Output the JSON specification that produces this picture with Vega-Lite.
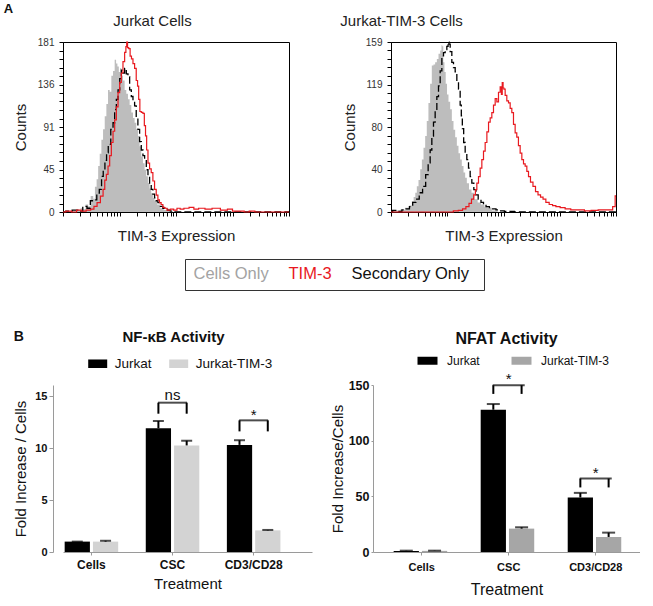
{
"$schema": "https://vega.github.io/schema/vega-lite/v6.json",
"padding": {"left": 3, "top": 2, "right": 0, "bottom": 0},
"title": {"text": "A", "anchor": "start", "frame": "bounds", "fontSize": 13, "fontWeight": "bold", "offset": -2, "dx": -9, "color": "#111"},
"datasets": {
"aCells": [{"d":0,"c":0},{"d":0.1,"c":1},{"d":0.2,"c":0.5},{"d":0.28,"c":2},{"d":0.34,"c":4},{"d":0.37,"c":3},{"d":0.43,"c":8},{"d":0.46,"c":6},{"d":0.52,"c":17},{"d":0.55,"c":14},{"d":0.58,"c":27},{"d":0.61,"c":35},{"d":0.635,"c":49},{"d":0.665,"c":62},{"d":0.694,"c":77},{"d":0.724,"c":88},{"d":0.753,"c":102},{"d":0.782,"c":115},{"d":0.812,"c":130},{"d":0.84,"c":128},{"d":0.871,"c":145},{"d":0.9,"c":150},{"d":0.929,"c":162},{"d":0.95,"c":158},{"d":0.976,"c":155},{"d":1.0,"c":149},{"d":1.018,"c":153},{"d":1.047,"c":145},{"d":1.076,"c":140},{"d":1.106,"c":130},{"d":1.135,"c":126},{"d":1.165,"c":120},{"d":1.194,"c":114},{"d":1.224,"c":106},{"d":1.253,"c":100},{"d":1.282,"c":95},{"d":1.312,"c":88},{"d":1.341,"c":81},{"d":1.371,"c":70},{"d":1.4,"c":59},{"d":1.43,"c":52},{"d":1.459,"c":45},{"d":1.488,"c":38},{"d":1.518,"c":31},{"d":1.547,"c":25},{"d":1.576,"c":20},{"d":1.606,"c":15},{"d":1.635,"c":12},{"d":1.694,"c":8},{"d":1.753,"c":4},{"d":1.812,"c":2},{"d":1.871,"c":1},{"d":1.93,"c":0},{"d":4,"c":0}],
"aSec": [{"d":0,"c":0},{"d":0.1,"c":1},{"d":0.224,"c":2},{"d":0.3,"c":1},{"d":0.4,"c":6},{"d":0.45,"c":4},{"d":0.518,"c":12},{"d":0.576,"c":13},{"d":0.62,"c":20},{"d":0.665,"c":24},{"d":0.7,"c":38},{"d":0.724,"c":45},{"d":0.76,"c":55},{"d":0.782,"c":63},{"d":0.82,"c":72},{"d":0.871,"c":88},{"d":0.9,"c":95},{"d":0.929,"c":109},{"d":0.96,"c":120},{"d":0.988,"c":130},{"d":1.02,"c":142},{"d":1.047,"c":151},{"d":1.076,"c":148},{"d":1.106,"c":153},{"d":1.135,"c":147},{"d":1.165,"c":144},{"d":1.194,"c":130},{"d":1.224,"c":123},{"d":1.253,"c":118},{"d":1.282,"c":113},{"d":1.31,"c":100},{"d":1.341,"c":88},{"d":1.371,"c":75},{"d":1.4,"c":66},{"d":1.43,"c":60},{"d":1.459,"c":56},{"d":1.49,"c":45},{"d":1.518,"c":38},{"d":1.547,"c":30},{"d":1.576,"c":24},{"d":1.606,"c":19},{"d":1.635,"c":15},{"d":1.665,"c":12},{"d":1.694,"c":10},{"d":1.753,"c":6},{"d":1.782,"c":4},{"d":1.83,"c":3},{"d":1.871,"c":2},{"d":1.93,"c":1},{"d":1.988,"c":0},{"d":4,"c":0}],
"aTim": [{"d":0,"c":0},{"d":0.1,"c":1},{"d":0.2,"c":0},{"d":0.282,"c":2},{"d":0.36,"c":1},{"d":0.459,"c":2},{"d":0.52,"c":3},{"d":0.576,"c":6},{"d":0.63,"c":10},{"d":0.694,"c":17},{"d":0.725,"c":24},{"d":0.753,"c":34},{"d":0.782,"c":40},{"d":0.812,"c":49},{"d":0.84,"c":60},{"d":0.871,"c":74},{"d":0.9,"c":86},{"d":0.929,"c":98},{"d":0.96,"c":112},{"d":0.988,"c":127},{"d":1.018,"c":138},{"d":1.047,"c":148},{"d":1.076,"c":160},{"d":1.106,"c":170},{"d":1.12,"c":176},{"d":1.135,"c":181},{"d":1.15,"c":175},{"d":1.176,"c":174},{"d":1.2,"c":166},{"d":1.224,"c":163},{"d":1.253,"c":158},{"d":1.282,"c":153},{"d":1.31,"c":140},{"d":1.329,"c":134},{"d":1.35,"c":120},{"d":1.371,"c":107},{"d":1.4,"c":106},{"d":1.429,"c":105},{"d":1.45,"c":92},{"d":1.471,"c":81},{"d":1.49,"c":66},{"d":1.518,"c":52},{"d":1.547,"c":46},{"d":1.576,"c":42},{"d":1.606,"c":33},{"d":1.635,"c":24},{"d":1.665,"c":18},{"d":1.694,"c":13},{"d":1.72,"c":10},{"d":1.753,"c":8},{"d":1.782,"c":5},{"d":1.812,"c":4},{"d":1.87,"c":2},{"d":1.929,"c":3},{"d":1.988,"c":2},{"d":2.047,"c":4},{"d":2.1,"c":3},{"d":2.18,"c":4},{"d":2.282,"c":5},{"d":2.35,"c":3},{"d":2.45,"c":4},{"d":2.576,"c":3},{"d":2.7,"c":4},{"d":2.871,"c":2},{"d":2.95,"c":3},{"d":3.05,"c":1},{"d":3.165,"c":1},{"d":3.25,"c":0},{"d":3.341,"c":1},{"d":3.45,"c":0},{"d":4,"c":0}],
"bCells": [{"d":0,"c":0},{"d":0.059,"c":1},{"d":0.119,"c":1.5},{"d":0.2,"c":2},{"d":0.296,"c":4},{"d":0.356,"c":6},{"d":0.385,"c":10},{"d":0.42,"c":14},{"d":0.444,"c":18},{"d":0.474,"c":24},{"d":0.504,"c":30},{"d":0.535,"c":40},{"d":0.563,"c":49},{"d":0.593,"c":60},{"d":0.622,"c":71},{"d":0.65,"c":85},{"d":0.681,"c":102},{"d":0.71,"c":120},{"d":0.741,"c":137},{"d":0.77,"c":138},{"d":0.8,"c":140},{"d":0.83,"c":143},{"d":0.859,"c":148},{"d":0.889,"c":151},{"d":0.905,"c":156},{"d":0.919,"c":155},{"d":0.94,"c":140},{"d":0.96,"c":131},{"d":0.985,"c":120},{"d":1.007,"c":110},{"d":1.037,"c":103},{"d":1.067,"c":96},{"d":1.096,"c":85},{"d":1.126,"c":77},{"d":1.156,"c":70},{"d":1.185,"c":62},{"d":1.215,"c":55},{"d":1.244,"c":49},{"d":1.274,"c":43},{"d":1.304,"c":37},{"d":1.333,"c":32},{"d":1.363,"c":27},{"d":1.41,"c":21},{"d":1.452,"c":18},{"d":1.511,"c":12},{"d":1.57,"c":9},{"d":1.63,"c":7},{"d":1.69,"c":5},{"d":1.748,"c":4},{"d":1.837,"c":1.5},{"d":1.956,"c":0},{"d":4,"c":0}],
"bSec": [{"d":0,"c":0},{"d":0.059,"c":1.5},{"d":0.15,"c":0.5},{"d":0.237,"c":2},{"d":0.3,"c":3},{"d":0.356,"c":5},{"d":0.415,"c":9},{"d":0.474,"c":12},{"d":0.53,"c":18},{"d":0.593,"c":24},{"d":0.64,"c":35},{"d":0.681,"c":46},{"d":0.711,"c":58},{"d":0.741,"c":71},{"d":0.77,"c":84},{"d":0.8,"c":96},{"d":0.83,"c":108},{"d":0.859,"c":118},{"d":0.889,"c":132},{"d":0.919,"c":146},{"d":0.948,"c":149},{"d":0.978,"c":152},{"d":1.007,"c":155},{"d":1.022,"c":159},{"d":1.037,"c":157},{"d":1.067,"c":150},{"d":1.096,"c":140},{"d":1.126,"c":135},{"d":1.156,"c":131},{"d":1.185,"c":122},{"d":1.215,"c":115},{"d":1.244,"c":100},{"d":1.256,"c":90},{"d":1.28,"c":78},{"d":1.304,"c":65},{"d":1.333,"c":56},{"d":1.363,"c":49},{"d":1.393,"c":41},{"d":1.422,"c":33},{"d":1.452,"c":27},{"d":1.493,"c":21},{"d":1.53,"c":16},{"d":1.57,"c":12},{"d":1.63,"c":9},{"d":1.659,"c":7},{"d":1.72,"c":5},{"d":1.778,"c":4},{"d":1.837,"c":3},{"d":1.896,"c":2},{"d":1.956,"c":1},{"d":2.074,"c":0.5},{"d":2.311,"c":0},{"d":4,"c":0}],
"bTim": [{"d":0,"c":0},{"d":1.067,"c":0},{"d":1.15,"c":1},{"d":1.244,"c":1.5},{"d":1.3,"c":3},{"d":1.363,"c":5},{"d":1.41,"c":8},{"d":1.452,"c":12},{"d":1.49,"c":16},{"d":1.511,"c":21},{"d":1.541,"c":27},{"d":1.57,"c":33},{"d":1.6,"c":41},{"d":1.63,"c":49},{"d":1.659,"c":57},{"d":1.689,"c":65},{"d":1.72,"c":75},{"d":1.748,"c":84},{"d":1.778,"c":88},{"d":1.807,"c":93},{"d":1.837,"c":100},{"d":1.867,"c":106},{"d":1.896,"c":103},{"d":1.926,"c":112},{"d":1.956,"c":117},{"d":1.97,"c":110},{"d":1.985,"c":121},{"d":2.0,"c":116},{"d":2.015,"c":115},{"d":2.044,"c":109},{"d":2.074,"c":104},{"d":2.104,"c":102},{"d":2.133,"c":97},{"d":2.163,"c":93},{"d":2.192,"c":82},{"d":2.222,"c":74},{"d":2.25,"c":70},{"d":2.281,"c":62},{"d":2.311,"c":55},{"d":2.341,"c":49},{"d":2.37,"c":45},{"d":2.4,"c":43},{"d":2.43,"c":38},{"d":2.459,"c":33},{"d":2.5,"c":28},{"d":2.548,"c":24},{"d":2.59,"c":19},{"d":2.637,"c":16},{"d":2.68,"c":14},{"d":2.726,"c":12},{"d":2.78,"c":9},{"d":2.844,"c":7},{"d":2.9,"c":6},{"d":2.963,"c":5},{"d":3.05,"c":4},{"d":3.141,"c":3},{"d":3.25,"c":2},{"d":3.378,"c":2},{"d":3.5,"c":1},{"d":3.615,"c":1.5},{"d":3.75,"c":2},{"d":3.911,"c":2},{"d":3.97,"c":5},{"d":4.0,"c":15}],
"nfkb": [{"t":"Cells","g":"Jurkat","v":1.0,"hi":1.0},{"t":"Cells","g":"Jurkat-TIM-3","v":1.0,"hi":1.08},{"t":"CSC","g":"Jurkat","v":11.9,"hi":12.6},{"t":"CSC","g":"Jurkat-TIM-3","v":10.25,"hi":10.7},{"t":"CD3/CD28","g":"Jurkat","v":10.3,"hi":10.75},{"t":"CD3/CD28","g":"Jurkat-TIM-3","v":2.08,"hi":2.12}],
"nfkbBr": [{"t":"CSC","g":"Jurkat","top":14.36,"bot":13.3,"lab":"ns","ly":14.6},{"t":"CSC","g":"Jurkat-TIM-3","top":14.36,"bot":13.3,"lab":"ns","ly":14.6},{"t":"CD3/CD28","g":"Jurkat","top":12.66,"bot":11.6,"lab":"*","ly":12.7},{"t":"CD3/CD28","g":"Jurkat-TIM-3","top":12.66,"bot":11.6,"lab":"*","ly":12.7}],
"nfat": [{"t":"Cells","g":"Jurkat","v":1.0,"hi":1.2},{"t":"Cells","g":"Jurkat-TIM-3","v":1.0,"hi":1.2},{"t":"CSC","g":"Jurkat","v":127.8,"hi":132.9},{"t":"CSC","g":"Jurkat-TIM-3","v":21,"hi":22.2},{"t":"CD3/CD28","g":"Jurkat","v":49,"hi":53.1},{"t":"CD3/CD28","g":"Jurkat-TIM-3","v":13.5,"hi":17.4}],
"nfatBr": [{"t":"CSC","g":"Jurkat","top":149.8,"bot":142,"lab":"*","ly":150.5},{"t":"CSC","g":"Jurkat-TIM-3","top":149.8,"bot":142,"lab":"*","ly":150.5},{"t":"CD3/CD28","g":"Jurkat","top":66,"bot":58,"lab":"*","ly":66.7},{"t":"CD3/CD28","g":"Jurkat-TIM-3","top":66,"bot":58,"lab":"*","ly":66.7}]
},
"concat": [
{
"bounds": "flush",
"spacing": 102,
"resolve": {"scale": {"color": "independent"}},
"hconcat": [
{
"width": 226, "height": 170,
"view": {"stroke": "#000", "strokeWidth": 1},
"title": {"text": "Jurkat Cells", "fontSize": 15, "fontWeight": "normal", "frame": "bounds", "offset": 8, "color": "#222"},
"encoding": {
"x": {"field": "d", "type": "quantitative", "scale": {"domain": [0, 4], "nice": false, "zero": false},
"axis": {"values": [0,0.301,0.477,0.602,0.699,0.778,0.845,0.903,0.954,1,1.301,1.477,1.602,1.699,1.778,1.845,1.903,1.954,2,2.301,2.477,2.602,2.699,2.778,2.845,2.903,2.954,3,3.301,3.477,3.602,3.699,3.778,3.845,3.903,3.954,4], "labels": false, "title": "TIM-3 Expression", "titleFontSize": 15, "titleFontWeight": "normal", "titleColor": "#222", "titlePadding": 12, "tickSize": 4, "tickColor": "#000", "domainColor": "#000"}},
"y": {"field": "c", "type": "quantitative", "scale": {"domain": [0, 181], "nice": false},
"axis": {"values": [0,9.05,18.1,27.15,36.2,45.25,54.3,63.35,72.4,81.45,90.5,99.55,108.6,117.65,126.7,135.75,144.8,153.85,162.9,171.95,181], "labelExpr": "indexof([0,45.25,90.5,135.75,181], datum.value) >= 0 ? format(datum.value, '.0f') : ''", "title": "Counts", "titleFontSize": 15, "titleFontWeight": "normal", "titleColor": "#222", "titlePadding": 9, "labelFontSize": 10, "labelColor": "#333", "labelPadding": 5, "tickSize": 4, "tickColor": "#000", "domainColor": "#000"}}
},
"layer": [
{"data": {"name": "aCells"}, "mark": {"type": "area", "interpolate": "step", "color": "#bdbdbd"}},
{"data": {"name": "aSec"}, "mark": {"type": "line", "interpolate": "step", "color": "#000", "strokeWidth": 1.3, "strokeDash": [7, 3]}},
{"data": {"name": "aTim"}, "mark": {"type": "line", "interpolate": "step", "color": "#e8191f", "strokeWidth": 1.2}}
]
},
{
"width": 225, "height": 170,
"view": {"stroke": "#000", "strokeWidth": 1},
"title": {"text": "Jurkat-TIM-3 Cells", "fontSize": 15, "fontWeight": "normal", "frame": "bounds", "offset": 8, "color": "#222"},
"encoding": {
"x": {"field": "d", "type": "quantitative", "scale": {"domain": [0, 4], "nice": false, "zero": false},
"axis": {"values": [0,0.301,0.477,0.602,0.699,0.778,0.845,0.903,0.954,1,1.301,1.477,1.602,1.699,1.778,1.845,1.903,1.954,2,2.301,2.477,2.602,2.699,2.778,2.845,2.903,2.954,3,3.301,3.477,3.602,3.699,3.778,3.845,3.903,3.954,4], "labels": false, "title": "TIM-3 Expression", "titleFontSize": 15, "titleFontWeight": "normal", "titleColor": "#222", "titlePadding": 12, "tickSize": 4, "tickColor": "#000", "domainColor": "#000"}},
"y": {"field": "c", "type": "quantitative", "scale": {"domain": [0, 159], "nice": false},
"axis": {"values": [0,7.95,15.9,23.85,31.8,39.75,47.7,55.65,63.6,71.55,79.5,87.45,95.4,103.35,111.3,119.25,127.2,135.15,143.1,151.05,159], "labelExpr": "indexof([0,39.75,79.5,119.25,159], datum.value) >= 0 ? format(datum.value, '.0f') : ''", "title": "Counts", "titleFontSize": 15, "titleFontWeight": "normal", "titleColor": "#222", "titlePadding": 8, "labelFontSize": 10, "labelColor": "#333", "labelPadding": 5, "tickSize": 4, "tickColor": "#000", "domainColor": "#000"}}
},
"layer": [
{"data": {"name": "bCells"}, "mark": {"type": "area", "interpolate": "step"},
 "encoding": {"color": {"datum": "Cells Only", "type": "nominal", "scale": {"domain": ["Cells Only", "TIM-3", "Secondary Only"], "range": ["#bdbdbd", "#e8191f", "#000000"]},
 "legend": {"orient": "none", "legendX": -206, "legendY": 217, "direction": "horizontal", "title": " ", "titleOrient": "right", "titlePadding": 8, "titleFontSize": 16.5, "labelFontSize": 16.5, "symbolSize": 0.01, "symbolOpacity": 0.001, "symbolStrokeWidth": 0.01, "labelOffset": -15, "columnPadding": 18, "padding": 7, "strokeColor": "#333",
 "encode": {"labels": {"update": {"fill": {"signal": "datum.value === 'TIM-3' ? '#e8191f' : (datum.value === 'Cells Only' ? '#a3a3a3' : '#111111')"}}}}}}}},
{"data": {"name": "bSec"}, "mark": {"type": "line", "interpolate": "step", "strokeWidth": 1.3, "strokeDash": [7, 3]},
 "encoding": {"color": {"datum": "Secondary Only", "type": "nominal", "scale": {"domain": ["Cells Only", "TIM-3", "Secondary Only"], "range": ["#bdbdbd", "#e8191f", "#000000"]}}}},
{"data": {"name": "bTim"}, "mark": {"type": "line", "interpolate": "step", "strokeWidth": 1.2},
 "encoding": {"color": {"datum": "TIM-3", "type": "nominal", "scale": {"domain": ["Cells Only", "TIM-3", "Secondary Only"], "range": ["#bdbdbd", "#e8191f", "#000000"]}}}}
]
}
]
},
{
"columns": 2,
"spacing": 18,
"resolve": {"scale": {"color": "independent"}},
"title": {"text": "B", "anchor": "start", "fontSize": 14, "fontWeight": "bold", "offset": -14, "color": "#111"},
"concat": [
{
"width": 249, "height": 167,
"title": {"text": "NF-κB Activity", "fontSize": 15, "fontWeight": "bold", "offset": 9, "dx": -14, "color": "#111"},
"encoding": {
"x": {"field": "t", "type": "nominal", "sort": null, "scale": {"domain": ["Cells", "CSC", "CD3/CD28"], "paddingInner": 0.34, "paddingOuter": 0.205, "align": 0.05},
"axis": {"title": "Treatment", "labelAngle": 0, "labelFontWeight": "bold", "labelFontSize": 12, "labelColor": "#111", "titleFontSize": 15, "titleFontWeight": "normal", "titleColor": "#111", "domainColor": "#9a9a9a", "tickColor": "#9a9a9a", "tickSize": 3, "labelPadding": 4, "titlePadding": 6}}
},
"layer": [
{"data": {"name": "nfkb"}, "mark": {"type": "bar"},
 "encoding": {
 "xOffset": {"field": "g", "type": "nominal", "scale": {"domain": ["Jurkat", "Jurkat-TIM-3"], "paddingInner": 0.107, "paddingOuter": 0}},
 "y": {"field": "v", "type": "quantitative", "scale": {"domain": [0, 16.06], "nice": false},
 "axis": {"values": [0, 5, 10, 15], "offset": 10, "title": "Fold Increase / Cells", "titleFontSize": 15, "titleFontWeight": "normal", "titleColor": "#111", "titlePadding": 6, "labelFontWeight": "bold", "labelFontSize": 11, "labelColor": "#111", "labelPadding": 2, "domainColor": "#9a9a9a", "tickColor": "#9a9a9a", "tickSize": 4}},
 "color": {"field": "g", "type": "nominal", "scale": {"domain": ["Jurkat", "Jurkat-TIM-3"], "range": ["#000000", "#d3d3d3"]},
 "legend": {"orient": "none", "legendX": 24.7, "legendY": -31.5, "direction": "horizontal", "title": null, "symbolType": "M-1,-0.45L1,-0.45L1,0.45L-1,0.45Z", "symbolSize": 361, "symbolStrokeWidth": 0.01, "labelFontSize": 13.5, "labelColor": "#111", "labelOffset": 7, "columnPadding": 17}}}},
{"data": {"name": "nfkb"}, "mark": {"type": "rule", "color": "#000", "strokeWidth": 2},
 "encoding": {"xOffset": {"field": "g", "type": "nominal"}, "y": {"field": "v", "type": "quantitative"}, "y2": {"field": "hi"}}},
{"data": {"name": "nfkb"}, "mark": {"type": "tick", "color": "#000", "thickness": 2, "size": 11},
 "encoding": {"xOffset": {"field": "g", "type": "nominal"}, "y": {"field": "hi", "type": "quantitative"}}},
{"data": {"name": "nfkbBr"}, "mark": {"type": "rule", "color": "#000", "strokeWidth": 2},
 "encoding": {"xOffset": {"field": "g", "type": "nominal"}, "y": {"field": "top", "type": "quantitative"}, "y2": {"field": "bot"}}},
{"data": {"name": "nfkbBr"}, "transform": [{"filter": "datum.g == 'Jurkat'"}], "mark": {"type": "tick", "color": "#000", "thickness": 2, "size": 29},
 "encoding": {"y": {"field": "top", "type": "quantitative"}}},
{"data": {"name": "nfkbBr"}, "transform": [{"filter": "datum.g == 'Jurkat'"}], "mark": {"type": "text", "fontSize": 15, "baseline": "alphabetic", "color": "#111"},
 "encoding": {"y": {"field": "ly", "type": "quantitative"}, "text": {"field": "lab"}}}
]
},
{
"width": 267, "height": 167,
"title": {"text": "NFAT Activity", "fontSize": 16, "fontWeight": "bold", "offset": 3, "color": "#111"},
"encoding": {
"x": {"field": "t", "type": "nominal", "sort": null, "scale": {"domain": ["Cells", "CSC", "CD3/CD28"], "paddingInner": 0.356, "paddingOuter": 0.212, "align": 0.56},
"axis": {"title": "Treatment", "labelAngle": 0, "labelFontWeight": "bold", "labelFontSize": 11, "labelColor": "#111", "titleFontSize": 16, "titleFontWeight": "normal", "titleColor": "#111", "domainColor": "#9a9a9a", "tickColor": "#9a9a9a", "tickSize": 3, "labelPadding": 6, "titlePadding": 9}}
},
"layer": [
{"data": {"name": "nfat"}, "mark": {"type": "bar"},
 "encoding": {
 "xOffset": {"field": "g", "type": "nominal", "scale": {"domain": ["Jurkat", "Jurkat-TIM-3"], "paddingInner": 0.25, "paddingOuter": 0}},
 "y": {"field": "v", "type": "quantitative", "scale": {"domain": [0, 150], "nice": false},
 "axis": {"values": [0, 50, 100, 150], "title": "Fold Increase/Cells", "titleFontSize": 15, "titleFontWeight": "normal", "titleColor": "#111", "titlePadding": 3, "labelFontWeight": "bold", "labelFontSize": 12.5, "labelColor": "#111", "labelPadding": 2, "domainColor": "#9a9a9a", "tickColor": "#9a9a9a", "tickSize": 2}},
 "color": {"field": "g", "type": "nominal", "scale": {"domain": ["Jurkat", "Jurkat-TIM-3"], "range": ["#000000", "#a6a6a6"]},
 "legend": {"orient": "none", "legendX": 44, "legendY": -35, "direction": "horizontal", "title": null, "symbolType": "M-1,-0.4L1,-0.4L1,0.4L-1,0.4Z", "symbolSize": 400, "symbolStrokeWidth": 0.01, "labelFontSize": 12, "labelColor": "#111", "labelOffset": 9, "columnPadding": 31}}}},
{"data": {"name": "nfat"}, "mark": {"type": "rule", "color": "#000", "strokeWidth": 2},
 "encoding": {"xOffset": {"field": "g", "type": "nominal"}, "y": {"field": "v", "type": "quantitative"}, "y2": {"field": "hi"}}},
{"data": {"name": "nfat"}, "mark": {"type": "tick", "color": "#000", "thickness": 2, "size": 13},
 "encoding": {"xOffset": {"field": "g", "type": "nominal"}, "y": {"field": "hi", "type": "quantitative"}}},
{"data": {"name": "nfatBr"}, "mark": {"type": "rule", "color": "#000", "strokeWidth": 2},
 "encoding": {"xOffset": {"field": "g", "type": "nominal"}, "y": {"field": "top", "type": "quantitative"}, "y2": {"field": "bot"}}},
{"data": {"name": "nfatBr"}, "transform": [{"filter": "datum.g == 'Jurkat'"}], "mark": {"type": "tick", "color": "#000", "thickness": 2, "size": 32},
 "encoding": {"y": {"field": "top", "type": "quantitative"}}},
{"data": {"name": "nfatBr"}, "transform": [{"filter": "datum.g == 'Jurkat'"}], "mark": {"type": "text", "fontSize": 15, "baseline": "alphabetic", "color": "#111"},
 "encoding": {"y": {"field": "ly", "type": "quantitative"}, "text": {"field": "lab"}}}
]
}
]
}
],
"columns": 1,
"spacing": 38,
"resolve": {"scale": {"color": "independent"}},
"config": {
"font": "Liberation Sans",
"view": {"stroke": null},
"axis": {"grid": false}
}
}
